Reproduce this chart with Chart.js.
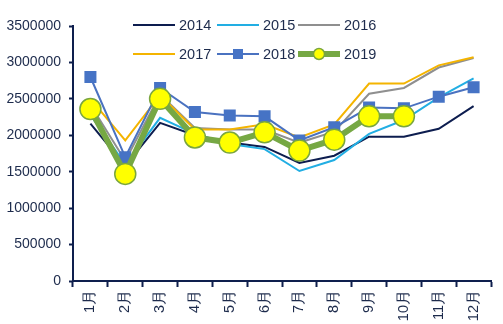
<!DOCTYPE html>
<html>
<head>
<meta charset="utf-8">
<script src="https://cdn.jsdelivr.net/npm/chart.js@4"></script>
<style>
  html, body { margin: 0; padding: 0; background: #fff; }
  #wrap { width: 503px; height: 324px; }
</style>
</head>
<body>
<div id="wrap"><canvas id="chart" width="503" height="324"></canvas></div>
<script>
// data
const months = ['1月', '2月', '3月', '4月', '5月', '6月', '7月', '8月', '9月', '10月', '11月', '12月'];
const y2014 = [2160000, 1580000, 2170000, 2000000, 1900000, 1840000, 1620000, 1720000, 1980000, 1980000, 2090000, 2400000];
const y2015 = [2280000, 1600000, 2240000, 2020000, 1880000, 1810000, 1510000, 1660000, 2020000, 2210000, 2520000, 2780000];
const y2016 = [2420000, 1650000, 2560000, 2100000, 2080000, 2080000, 1900000, 2050000, 2570000, 2650000, 2930000, 3060000];
const y2017 = [2500000, 1930000, 2550000, 2080000, 2080000, 2150000, 1970000, 2150000, 2710000, 2710000, 2960000, 3070000];
const y2018 = [2800000, 1700000, 2650000, 2320000, 2270000, 2260000, 1930000, 2110000, 2380000, 2370000, 2530000, 2660000];
const y2019 = [2360000, 1470000, 2500000, 1970000, 1900000, 2040000, 1790000, 1940000, 2260000, 2260000, null, null];
const yTicks = [0, 500000, 1000000, 1500000, 2000000, 2500000, 3000000, 3500000];

const navy = '#0e1f4d';
const textCol = '#1d2b4c';
const fam = '"Liberation Sans", Arial, sans-serif';

// legend drawn inside the plot, two rows of three like the original
const legendPlugin = {
    id: 'innerLegend',
    afterDraw(chart) {
        const ctx = chart.ctx;
        const slots = [[133, 25], [217, 25], [298, 25], [133, 54], [217, 54], [298, 54]];
        chart.data.datasets.forEach((ds, i) => {
            const [x, y] = slots[i];
            ctx.save();
            ctx.strokeStyle = ds.borderColor;
            ctx.lineWidth = ds.borderWidth;
            ctx.beginPath();
            ctx.moveTo(x, y);
            ctx.lineTo(x + 42, y);
            ctx.stroke();
            if (ds.pointStyle === 'rect') {
                ctx.fillStyle = ds.pointBackgroundColor;
                ctx.fillRect(x + 21 - 5, y - 5, 10, 10);
            } else if (ds.pointRadius > 0) {
                ctx.fillStyle = ds.pointBackgroundColor;
                ctx.strokeStyle = ds.pointBorderColor;
                ctx.lineWidth = 1.5;
                ctx.beginPath();
                ctx.arc(x + 21, y, 5.5, 0, Math.PI * 2);
                ctx.fill();
                ctx.stroke();
            }
            ctx.fillStyle = textCol;
            ctx.font = '14.5px ' + fam;
            ctx.textBaseline = 'middle';
            ctx.fillText(ds.label, x + 46, y + 1);
            ctx.restore();
        });
    }
};

function lineSet(label, data, color, order) {
    return {
        label: label, data: data, borderColor: color, backgroundColor: color,
        borderWidth: 2, pointRadius: 0, order: order, tension: 0
    };
}

const datasets = [
    lineSet('2014', y2014, '#0d1d4f', 5),
    lineSet('2015', y2015, '#22aee3', 4),
    lineSet('2016', y2016, '#8f8f8f', 3),
    lineSet('2017', y2017, '#f4b400', 2),
    {
        label: '2018', data: y2018, borderColor: '#4a72c0', borderWidth: 2,
        pointStyle: 'rect', pointRadius: 8.5, pointBackgroundColor: '#4673c5',
        pointBorderColor: '#4673c5', pointBorderWidth: 0, order: 1
    },
    {
        label: '2019', data: y2019, borderColor: '#76a844', borderWidth: 6,
        pointStyle: 'circle', pointRadius: 10.5, pointBackgroundColor: '#ffff00',
        pointBorderColor: '#7aa63e', pointBorderWidth: 1.5, order: 0
    }
];

new Chart(document.getElementById('chart'), {
    type: 'line',
    data: { labels: months, datasets: datasets },
    options: {
        responsive: false,
        animation: false,
        devicePixelRatio: 1,
        layout: { padding: { top: 26, right: 5, left: 0, bottom: 0 } },
        plugins: { legend: { display: false }, tooltip: { enabled: false } },
        scales: {
            x: {
                offset: true,
                grid: { offset: true, drawOnChartArea: false, tickLength: 6, color: navy, tickWidth: 2 },
                border: { color: navy, width: 2 },
                ticks: { minRotation: 90, maxRotation: 90, color: textCol, font: { family: fam, size: 14.5 }, padding: 3 },
                afterFit(s) { s.height = 43; }
            },
            y: {
                min: 0, max: 3500000,
                afterBuildTicks(s) { s.ticks = yTicks.map(v => ({ value: v })); },
                grid: { drawOnChartArea: false, tickLength: 4, color: navy, tickWidth: 2 },
                border: { color: navy, width: 2 },
                ticks: { color: textCol, font: { family: fam, size: 14 }, padding: 8, callback: v => String(v) },
                afterFit(s) { s.width = 73; }
            }
        }
    },
    plugins: [legendPlugin]
});
</script>
</body>
</html>
